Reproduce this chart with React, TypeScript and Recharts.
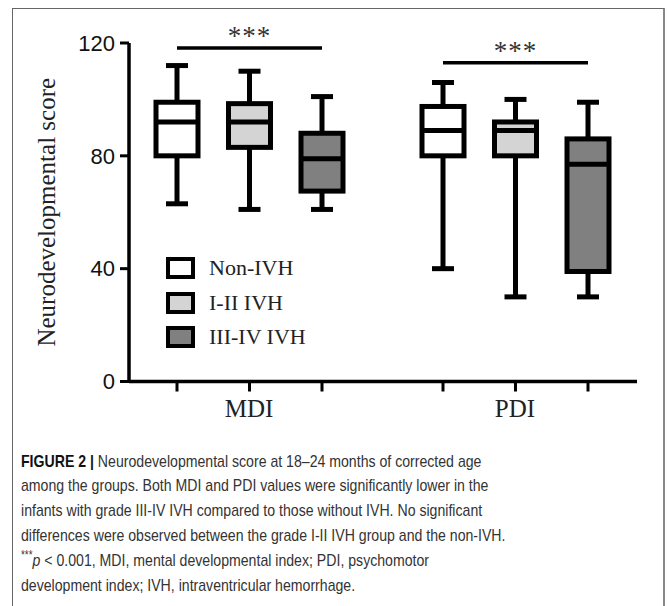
import React from "react";
import { ComposedChart, Bar, XAxis, YAxis, Legend } from "recharts";

const groups = ["MDI", "PDI"];
const seriesNames = ["Non-IVH", "I-II IVH", "III-IV IVH"];
const seriesColors = ["#ffffff", "#d4d4d4", "#808080"];

// one array per series, values in group order [MDI, PDI]
const minVals = [[63, 40], [61, 30], [61, 30]];
const q1Vals = [[80, 80], [83, 80], [67.5, 39]];
const medianVals = [[92, 89], [92, 89], [79, 77]];
const q3Vals = [[99, 97.5], [98.5, 92], [88, 86]];
const maxVals = [[112, 106], [110, 100], [101, 99]];

const sigLevels = [118.2, 113];
const sigLabels = ["***", "***"];

const yTicks = [0, 40, 80, 120];

const BAR_SIZE = 42;
const BAR_GAP = 30.5;
const SERIF = "'Liberation Serif', 'Times New Roman', serif";
const SANS = "'Liberation Sans', Arial, sans-serif";

const rows = groups.map((group, i) => ({
  group,
  stats: seriesNames.map((_, k) => ({
    min: minVals[k][i],
    q1: q1Vals[k][i],
    median: medianVals[k][i],
    q3: q3Vals[k][i],
    max: maxVals[k][i],
  })),
  sig: sigLevels[i],
  sigLabel: sigLabels[i],
}));

function BoxShape(props: any) {
  const { x, y, width, height, payload, seriesIndex, fill } = props;
  const s = payload.stats[seriesIndex];
  const base = y + height; // pixel of value 0
  const py = (v: number) => base - (height * v) / s.max;
  const cx = x + width / 2;
  const cap = 11;
  const sw = 5;
  return (
    <g>
      <line x1={cx} x2={cx} y1={py(s.max)} y2={py(s.q3)} stroke="#000" strokeWidth={sw} />
      <line x1={cx} x2={cx} y1={py(s.q1)} y2={py(s.min)} stroke="#000" strokeWidth={sw} />
      <line x1={cx - cap} x2={cx + cap} y1={py(s.max)} y2={py(s.max)} stroke="#000" strokeWidth={sw} />
      <line x1={cx - cap} x2={cx + cap} y1={py(s.min)} y2={py(s.min)} stroke="#000" strokeWidth={sw} />
      <rect
        x={x}
        y={py(s.q3)}
        width={width}
        height={py(s.q1) - py(s.q3)}
        fill={fill}
        stroke="#000"
        strokeWidth={sw}
      />
      <line x1={x} x2={x + width} y1={py(s.median)} y2={py(s.median)} stroke="#000" strokeWidth={sw} />
      <line x1={cx} x2={cx} y1={base} y2={base + 10} stroke="#000" strokeWidth={3} />
      {seriesIndex === 1 && (
        <g>
          <line
            x1={cx - (width + BAR_GAP)}
            x2={cx + (width + BAR_GAP)}
            y1={py(payload.sig)}
            y2={py(payload.sig)}
            stroke="#000"
            strokeWidth={3.5}
          />
          <text
            x={cx}
            y={py(payload.sig) - 3}
            textAnchor="middle"
            fontFamily={SERIF}
            fontSize={27}
            letterSpacing={1}
            fill="#333"
          >
            {payload.sigLabel}
          </text>
        </g>
      )}
    </g>
  );
}

function CategoryTick(props: any) {
  const { x, y, payload } = props;
  return (
    <text x={x} y={y + 35} textAnchor="middle" fontFamily={SERIF} fontSize={25} fill="#222">
      {payload.value}
    </text>
  );
}

function LegendBox() {
  return (
    <div>
      {seriesNames.map((name, k) => (
        <div key={name} style={{ display: "flex", alignItems: "center", height: 34.6 }}>
          <div
            style={{
              width: 29,
              height: 22,
              boxSizing: "border-box",
              border: "4.5px solid #000",
              background: seriesColors[k],
            }}
          />
          <span
            style={{
              marginLeft: 14,
              fontFamily: SERIF,
              fontSize: 22,
              lineHeight: "34.6px",
              color: "#222",
              whiteSpace: "nowrap",
            }}
          >
            {name}
          </span>
        </div>
      ))}
    </div>
  );
}

const captionLines: React.ReactNode[] = [
  <>
    <b style={{ color: "#111" }}>FIGURE 2 |</b> Neurodevelopmental score at 18–24 months of corrected age
  </>,
  <>among the groups. Both MDI and PDI values were significantly lower in the</>,
  <>infants with grade III-IV IVH compared to those without IVH. No significant</>,
  <>differences were observed between the grade I-II IVH group and the non-IVH.</>,
  <>
    <sup style={{ fontSize: "0.7em", lineHeight: 0 }}>***</sup>
    <i>p</i> &lt; 0.001, MDI, mental developmental index; PDI, psychomotor
  </>,
  <>development index; IVH, intraventricular hemorrhage.</>,
];

export default function App() {
  return (
    <div
      style={{
        position: "fixed",
        left: 0,
        top: 0,
        width: 667,
        height: 606,
        overflow: "hidden",
        background: "#fff",
      }}
    >
      <div
        style={{
          position: "absolute",
          left: 12,
          top: 8,
          width: 650,
          height: 700,
          borderLeft: "1px solid #666",
          borderTop: "1px solid #666",
          borderRight: "2px solid #888",
        }}
      />
      <div style={{ position: "absolute", left: 0, top: 0 }}>
        <ComposedChart
          width={667}
          height={440}
          data={rows}
          margin={{ top: 43, right: 30, left: 0, bottom: 18.5 }}
          barSize={BAR_SIZE}
          barGap={BAR_GAP}
        >
          <XAxis
            dataKey="group"
            height={40}
            padding={{ left: -13, right: -11 }}
            axisLine={{ stroke: "#000", strokeWidth: 3.5 }}
            tickLine={false}
            tickSize={0}
            tickMargin={0}
            tick={<CategoryTick />}
            interval={0}
          />
          <YAxis
            width={129}
            domain={[0, 120]}
            ticks={yTicks}
            interval={0}
            axisLine={{ stroke: "#000", strokeWidth: 3.5 }}
            tickLine={{ stroke: "#000", strokeWidth: 3 }}
            tickSize={9}
            tickMargin={5}
            tick={{ fontSize: 22, fill: "#111", fontFamily: SANS }}
            label={{
              content: (p: any) => {
                const vb = p.viewBox || { x: 0, y: 43, height: 338 };
                const cy = vb.y + vb.height / 2;
                return (
                  <text
                    x={55}
                    y={cy}
                    transform={`rotate(-90, 55, ${cy})`}
                    textAnchor="middle"
                    fontFamily={SERIF}
                    fontSize={25}
                    fill="#222"
                  >
                    Neurodevelopmental score
                  </text>
                );
              },
            }}
          />
          <Legend
            layout="vertical"
            align="center"
            verticalAlign="middle"
            wrapperStyle={{ left: 166, top: 251, width: 250, height: "auto" }}
            content={<LegendBox />}
          />
          {seriesNames.map((name, k) => (
            <Bar
              key={name}
              name={name}
              dataKey={(d: any) => d.stats[k].max}
              fill={seriesColors[k]}
              isAnimationActive={false}
              shape={(p: any) => <BoxShape {...p} seriesIndex={k} fill={seriesColors[k]} />}
            />
          ))}
        </ComposedChart>
      </div>
      <div
        style={{
          position: "absolute",
          left: 21,
          top: 449.7,
          fontFamily: SANS,
          fontSize: 17,
          lineHeight: "24.8px",
          color: "#333",
          whiteSpace: "nowrap",
          transform: "scaleX(0.83)",
          transformOrigin: "0 0",
        }}
      >
        {captionLines.map((line, i) => (
          <div key={i}>{line}</div>
        ))}
      </div>
    </div>
  );
}
